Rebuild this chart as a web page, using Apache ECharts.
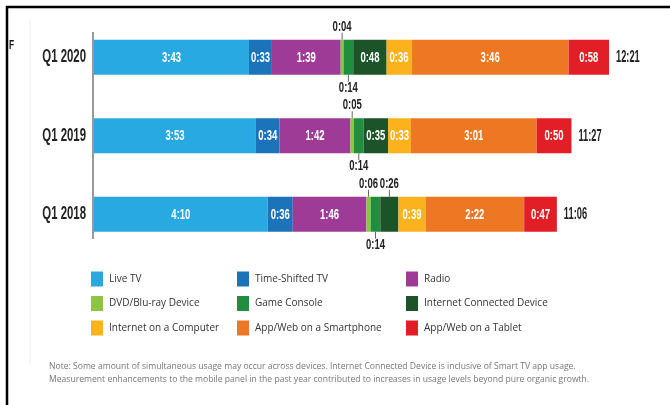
<!DOCTYPE html>
<html>
<head>
<meta charset="utf-8">
<script src="https://cdn.jsdelivr.net/npm/echarts@6/dist/echarts.min.js"></script>
<style>
  html, body { margin: 0; padding: 0; background: #fff; }
  #chart { width: 670px; height: 405px; }
</style>
</head>
<body>
<div id="chart"></div>
<script>
// Average weekly time spent per adult, in minutes, by device/platform
const quarters = ['Q1 2020', 'Q1 2019', 'Q1 2018'];

const liveTV        = [223, 233, 250];
const timeShiftedTV = [33, 34, 36];
const radio         = [99, 102, 106];
const dvdBluRay     = [4, 5, 6];
const gameConsole   = [14, 14, 14];
const connectedDev  = [48, 35, 26];
const computer      = [36, 33, 39];
const smartphone    = [226, 181, 142];
const tablet        = [58, 50, 47];

const seriesNames = [
  'Live TV', 'Time-Shifted TV', 'Radio',
  'DVD/Blu-ray Device', 'Game Console', 'Internet Connected Device',
  'Internet on a Computer', 'App/Web on a Smartphone', 'App/Web on a Tablet'
];
const seriesValues = [
  liveTV, timeShiftedTV, radio,
  dvdBluRay, gameConsole, connectedDev,
  computer, smartphone, tablet
];
const seriesColors = [
  '#29a9e1', '#1b73b9', '#9d3b96',
  '#8cc540', '#1f8f3f', '#1d5328',
  '#fbb21c', '#ee7724', '#e21f27'
];

// Segments too thin for an inside label: label sits above or below with a guide line
const labelAbove = { 'DVD/Blu-ray Device': [0, 1, 2], 'Internet Connected Device': [2] };
const labelBelow = { 'Game Console': [0, 1, 2] };

const noteLines = [
  'Note: Some amount of simultaneous usage may occur across devices. Internet Connected Device is inclusive of Smart TV app usage.',
  'Measurement enhancements to the mobile panel in the past year contributed to increases in usage levels beyond pure organic growth.'
];

function hm(mins) {
  const h = Math.floor(mins / 60);
  const m = mins % 60;
  return h + ':' + (m < 10 ? '0' : '') + m;
}

// Tall condensed lettering: a bold sans squeezed horizontally
const boldSans = '"Liberation Sans", Arial, sans-serif';
const BAR_W = 35;

function placement(name, idx) {
  if (labelAbove[name] && labelAbove[name].includes(idx)) return -1;
  if (labelBelow[name] && labelBelow[name].includes(idx)) return 1;
  return 0;
}

const barSeries = seriesNames.map((name, si) => ({
  name: name,
  type: 'bar',
  stack: 'total',
  barWidth: BAR_W,
  itemStyle: { color: seriesColors[si] },
  emphasis: { disabled: true },
  data: seriesValues[si]
}));

// One record per segment: [start, end, category, placement, value]
const segmentData = [];
seriesNames.forEach((name, si) => {
  quarters.forEach((q, ci) => {
    let start = 0;
    for (let k = 0; k < si; k++) start += seriesValues[k][ci];
    const v = seriesValues[si][ci];
    segmentData.push([start, start + v, ci, placement(name, ci), v]);
  });
});

const totals = quarters.map((q, ci) => seriesValues.reduce((s, arr) => s + arr[ci], 0));

function squeezedText(x, y, text, size, sx, fill, align) {
  return {
    type: 'text', x: x, y: y, scaleX: sx,
    style: { text: text, x: 0, y: 0, fill: fill, font: 'bold ' + size + 'px ' + boldSans,
             align: align, verticalAlign: 'middle' }
  };
}

const segmentLabelSeries = {
  type: 'custom',
  name: 'segment labels',
  silent: true,
  z: 5,
  data: segmentData,
  renderItem: function (params, api) {
    const mid = api.coord([(api.value(0) + api.value(1)) / 2, api.value(2)]);
    const dir = api.value(3);
    const txt = hm(api.value(4));
    if (dir === 0) {
      return squeezedText(mid[0], mid[1] + 0.5, txt, 14, 0.68, '#fff', 'center');
    }
    const edge = mid[1] + dir * BAR_W / 2;
    return {
      type: 'group',
      children: [
        { type: 'line', shape: { x1: mid[0], y1: edge, x2: mid[0], y2: edge + dir * 7 },
          style: { stroke: '#666', lineWidth: 1 } },
        squeezedText(mid[0], edge + dir * 13, txt, 14, 0.68, '#222', 'center')
      ]
    };
  }
};

const totalSeries = {
  type: 'custom',
  name: 'totals',
  silent: true,
  z: 5,
  data: totals.map((t, ci) => [t, ci]),
  renderItem: function (params, api) {
    const p = api.coord([api.value(0), api.value(1)]);
    return squeezedText(p[0] + 7, p[1] + 0.5, hm(api.value(0)), 16, 0.58, '#222', 'left');
  }
};

const categorySeries = {
  type: 'custom',
  name: 'categories',
  silent: true,
  z: 5,
  data: quarters.map((q, ci) => [0, ci]),
  renderItem: function (params, api) {
    const p = api.coord([0, api.value(1)]);
    return squeezedText(p[0] - 8, p[1], quarters[params.dataIndex], 19, 0.6, '#222', 'right');
  }
};

function legendColumn(names, left) {
  return {
    orient: 'vertical',
    left: left,
    top: 271.5,
    padding: 0,
    icon: 'rect',
    itemWidth: 12,
    itemHeight: 15,
    itemGap: 9.5,
    selectedMode: false,
    textStyle: { fontFamily: '"Open Sans", sans-serif', fontSize: 10, color: '#333', padding: [0, 0, 0, 1] },
    data: names
  };
}

const chart = echarts.init(document.getElementById('chart'), null, { renderer: 'canvas' });
chart.setOption({
  backgroundColor: '#fff',
  animation: false,
  grid: { left: 94, right: 20, top: 18, height: 235.5 },
  xAxis: { type: 'value', min: 0, max: 800, show: false },
  yAxis: {
    type: 'category',
    inverse: true,
    data: quarters,
    axisLine: { show: false },
    axisTick: { show: false },
    axisLabel: { show: false }
  },
  legend: [
    legendColumn([seriesNames[0], seriesNames[3], seriesNames[6]], 91),
    legendColumn([seriesNames[1], seriesNames[4], seriesNames[7]], 237),
    legendColumn([seriesNames[2], seriesNames[5], seriesNames[8]], 406)
  ],
  graphic: [
    // frame edges
    { type: 'line', shape: { x1: 6, y1: 7, x2: 670, y2: 7 }, style: { stroke: '#000', lineWidth: 2.5 } },
    { type: 'line', shape: { x1: 7, y1: 6, x2: 7, y2: 405 }, style: { stroke: '#000', lineWidth: 2.5 } },
    // faint panel edge
    { type: 'line', shape: { x1: 30, y1: 20, x2: 30, y2: 365 }, style: { stroke: '#f0f0f0', lineWidth: 1 } },
    { type: 'text', left: 9, top: 40, scaleX: 0.7, style: { text: 'F', fill: '#111', font: 'bold 12px ' + boldSans } },
    // baseline
    { type: 'line', shape: { x1: 93, y1: 32, x2: 93, y2: 239 }, style: { stroke: '#777', lineWidth: 1.5 } },
    { type: 'text', left: 49, top: 360,
      style: { text: noteLines.join('\n'), fill: '#777', lineHeight: 13,
               font: '8.6px "Open Sans", sans-serif' } }
  ],
  series: barSeries.concat([segmentLabelSeries, totalSeries, categorySeries])
});
</script>
</body>
</html>
